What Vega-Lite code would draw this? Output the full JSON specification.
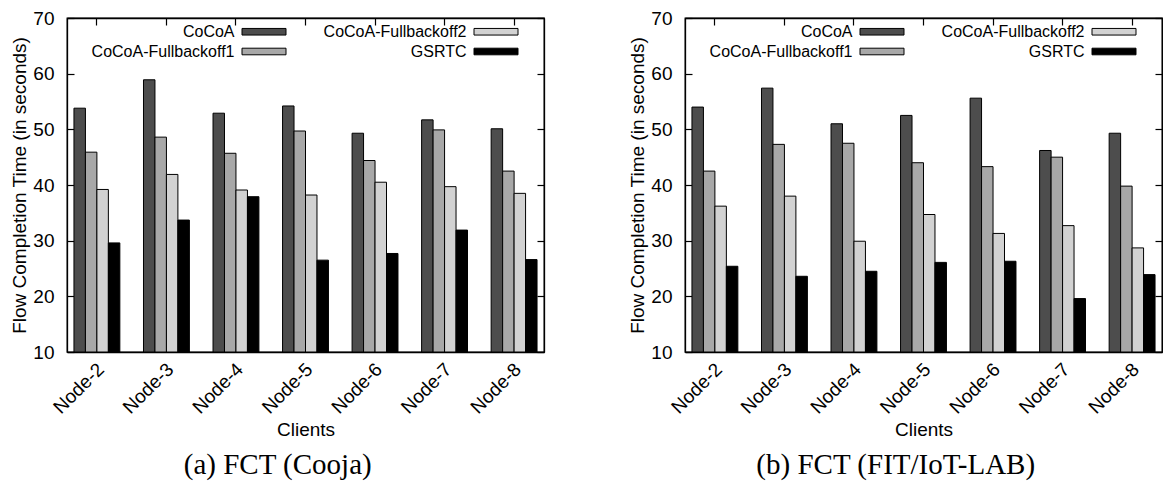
{
  "$schema": "https://vega.github.io/schema/vega-lite/v6.json",
  "background": "white",
  "padding": {"left": 10, "top": 8, "right": 5, "bottom": 0},
  "datasets": {
    "cooja": [
      {"node": "Node-2", "method": "CoCoA", "value": 53.8},
      {"node": "Node-2", "method": "CoCoA-Fullbackoff1", "value": 45.9},
      {"node": "Node-2", "method": "CoCoA-Fullbackoff2", "value": 39.2},
      {"node": "Node-2", "method": "GSRTC", "value": 29.6},
      {"node": "Node-3", "method": "CoCoA", "value": 58.9},
      {"node": "Node-3", "method": "CoCoA-Fullbackoff1", "value": 48.6},
      {"node": "Node-3", "method": "CoCoA-Fullbackoff2", "value": 41.9},
      {"node": "Node-3", "method": "GSRTC", "value": 33.7},
      {"node": "Node-4", "method": "CoCoA", "value": 52.9},
      {"node": "Node-4", "method": "CoCoA-Fullbackoff1", "value": 45.7},
      {"node": "Node-4", "method": "CoCoA-Fullbackoff2", "value": 39.1},
      {"node": "Node-4", "method": "GSRTC", "value": 37.9},
      {"node": "Node-5", "method": "CoCoA", "value": 54.2},
      {"node": "Node-5", "method": "CoCoA-Fullbackoff1", "value": 49.7},
      {"node": "Node-5", "method": "CoCoA-Fullbackoff2", "value": 38.2},
      {"node": "Node-5", "method": "GSRTC", "value": 26.5},
      {"node": "Node-6", "method": "CoCoA", "value": 49.3},
      {"node": "Node-6", "method": "CoCoA-Fullbackoff1", "value": 44.4},
      {"node": "Node-6", "method": "CoCoA-Fullbackoff2", "value": 40.5},
      {"node": "Node-6", "method": "GSRTC", "value": 27.7},
      {"node": "Node-7", "method": "CoCoA", "value": 51.7},
      {"node": "Node-7", "method": "CoCoA-Fullbackoff1", "value": 49.9},
      {"node": "Node-7", "method": "CoCoA-Fullbackoff2", "value": 39.7},
      {"node": "Node-7", "method": "GSRTC", "value": 31.9},
      {"node": "Node-8", "method": "CoCoA", "value": 50.1},
      {"node": "Node-8", "method": "CoCoA-Fullbackoff1", "value": 42.5},
      {"node": "Node-8", "method": "CoCoA-Fullbackoff2", "value": 38.5},
      {"node": "Node-8", "method": "GSRTC", "value": 26.6}
    ],
    "fit": [
      {"node": "Node-2", "method": "CoCoA", "value": 54.0},
      {"node": "Node-2", "method": "CoCoA-Fullbackoff1", "value": 42.5},
      {"node": "Node-2", "method": "CoCoA-Fullbackoff2", "value": 36.2},
      {"node": "Node-2", "method": "GSRTC", "value": 25.4},
      {"node": "Node-3", "method": "CoCoA", "value": 57.4},
      {"node": "Node-3", "method": "CoCoA-Fullbackoff1", "value": 47.3},
      {"node": "Node-3", "method": "CoCoA-Fullbackoff2", "value": 38.0},
      {"node": "Node-3", "method": "GSRTC", "value": 23.6},
      {"node": "Node-4", "method": "CoCoA", "value": 51.0},
      {"node": "Node-4", "method": "CoCoA-Fullbackoff1", "value": 47.5},
      {"node": "Node-4", "method": "CoCoA-Fullbackoff2", "value": 29.9},
      {"node": "Node-4", "method": "GSRTC", "value": 24.5},
      {"node": "Node-5", "method": "CoCoA", "value": 52.5},
      {"node": "Node-5", "method": "CoCoA-Fullbackoff1", "value": 44.0},
      {"node": "Node-5", "method": "CoCoA-Fullbackoff2", "value": 34.7},
      {"node": "Node-5", "method": "GSRTC", "value": 26.1},
      {"node": "Node-6", "method": "CoCoA", "value": 55.6},
      {"node": "Node-6", "method": "CoCoA-Fullbackoff1", "value": 43.3},
      {"node": "Node-6", "method": "CoCoA-Fullbackoff2", "value": 31.3},
      {"node": "Node-6", "method": "GSRTC", "value": 26.3},
      {"node": "Node-7", "method": "CoCoA", "value": 46.2},
      {"node": "Node-7", "method": "CoCoA-Fullbackoff1", "value": 45.0},
      {"node": "Node-7", "method": "CoCoA-Fullbackoff2", "value": 32.7},
      {"node": "Node-7", "method": "GSRTC", "value": 19.6},
      {"node": "Node-8", "method": "CoCoA", "value": 49.3},
      {"node": "Node-8", "method": "CoCoA-Fullbackoff1", "value": 39.8},
      {"node": "Node-8", "method": "CoCoA-Fullbackoff2", "value": 28.7},
      {"node": "Node-8", "method": "GSRTC", "value": 23.9}
    ]
  },
  "config": {
    "font": "Liberation Sans",
    "view": {"stroke": "black", "strokeWidth": 1.3},
    "axis": {
      "labelFont": "Liberation Sans", "labelFontSize": 19, "labelColor": "black",
      "titleFont": "Liberation Sans", "titleFontSize": 19, "titleFontWeight": "normal", "titleColor": "black",
      "domainColor": "black", "domainWidth": 1.3, "tickColor": "black", "tickWidth": 1.2, "grid": false, "zindex": 1
    },
    "title": {"font": "Liberation Serif", "fontSize": 29, "fontWeight": "normal", "color": "black", "orient": "bottom", "anchor": "middle", "frame": "bounds", "offset": 12}
  },
  "resolve": {"legend": {"color": "independent"}},
  "spacing": 82,
  "hconcat": [
    {
      "data": {"name": "cooja"},
      "width": 477, "height": 334,
      "title": {"text": "(a) FCT (Cooja)"},
      "layer": [
        {
          "mark": {"type": "bar", "stroke": "black", "strokeWidth": 1},
          "encoding": {
            "x": {"field": "node", "type": "nominal", "scale": {"paddingInner": 0.34, "paddingOuter": 0.1},
                  "axis": {"title": "Clients", "labelAngle": -45, "labelAlign": "right", "labelBaseline": "middle", "ticks": false, "labelPadding": 14, "labelOffset": 4, "titlePadding": 3}},
            "xOffset": {"field": "method", "type": "nominal", "sort": ["CoCoA", "CoCoA-Fullbackoff1", "CoCoA-Fullbackoff2", "GSRTC"], "scale": {"paddingInner": 0, "paddingOuter": 0}},
            "y": {"field": "value", "type": "quantitative", "scale": {"domain": [10, 70], "nice": false, "zero": false},
                  "axis": {"title": "Flow Completion Time (in seconds)", "values": [10, 20, 30, 40, 50, 60, 70], "tickSize": -7, "labelPadding": 20, "titlePadding": 3}},
            "y2": {"datum": 10},
            "color": {"field": "method", "type": "nominal",
                      "scale": {"domain": ["CoCoA", "CoCoA-Fullbackoff1", "CoCoA-Fullbackoff2", "GSRTC"], "range": ["#4d4d4d", "#a8a8a8", "#d2d2d2", "#000000"]},
                      "legend": {"orient": "none", "legendX": 185.5, "legendY": 2, "columns": 2, "direction": "vertical", "columnPadding": 35, "rowPadding": 0,
                                 "symbolType": "M-2,-0.3H2V0.3H-2Z", "symbolSize": 484, "symbolOpacity": 1,
                                 "symbolStrokeColor": "black", "symbolStrokeWidth": 1, "labelAlign": "right", "labelOffset": -41,
                                 "labelFont": "Liberation Sans", "labelFontSize": 16, "labelColor": "black", "labelLimit": 300,
                                 "title": null, "padding": 0}}
          }
        },
        {
          "mark": {"type": "bar", "fillOpacity": 0, "strokeOpacity": 0},
          "encoding": {
            "x": {"field": "node", "type": "nominal", "axis": {"orient": "top", "labels": false, "title": null, "tickSize": -7}},
            "y": {"field": "value", "type": "quantitative", "axis": {"orient": "right", "labels": false, "title": null, "tickSize": -7, "values": [10, 20, 30, 40, 50, 60, 70]}},
            "y2": {"datum": 10}
          }
        }
      ],
      "resolve": {"axis": {"x": "independent", "y": "independent"}}
    },
    {
      "data": {"name": "fit"},
      "width": 477, "height": 334,
      "title": {"text": "(b) FCT (FIT/IoT-LAB)"},
      "layer": [
        {
          "mark": {"type": "bar", "stroke": "black", "strokeWidth": 1},
          "encoding": {
            "x": {"field": "node", "type": "nominal", "scale": {"paddingInner": 0.34, "paddingOuter": 0.1},
                  "axis": {"title": "Clients", "labelAngle": -45, "labelAlign": "right", "labelBaseline": "middle", "ticks": false, "labelPadding": 14, "labelOffset": 4, "titlePadding": 3}},
            "xOffset": {"field": "method", "type": "nominal", "sort": ["CoCoA", "CoCoA-Fullbackoff1", "CoCoA-Fullbackoff2", "GSRTC"], "scale": {"paddingInner": 0, "paddingOuter": 0}},
            "y": {"field": "value", "type": "quantitative", "scale": {"domain": [10, 70], "nice": false, "zero": false},
                  "axis": {"title": "Flow Completion Time (in seconds)", "values": [10, 20, 30, 40, 50, 60, 70], "tickSize": -7, "labelPadding": 20, "titlePadding": 3}},
            "y2": {"datum": 10},
            "color": {"field": "method", "type": "nominal",
                      "scale": {"domain": ["CoCoA", "CoCoA-Fullbackoff1", "CoCoA-Fullbackoff2", "GSRTC"], "range": ["#4d4d4d", "#a8a8a8", "#d2d2d2", "#000000"]},
                      "legend": {"orient": "none", "legendX": 185.5, "legendY": 2, "columns": 2, "direction": "vertical", "columnPadding": 35, "rowPadding": 0,
                                 "symbolType": "M-2,-0.3H2V0.3H-2Z", "symbolSize": 484, "symbolOpacity": 1,
                                 "symbolStrokeColor": "black", "symbolStrokeWidth": 1, "labelAlign": "right", "labelOffset": -41,
                                 "labelFont": "Liberation Sans", "labelFontSize": 16, "labelColor": "black", "labelLimit": 300,
                                 "title": null, "padding": 0}}
          }
        },
        {
          "mark": {"type": "bar", "fillOpacity": 0, "strokeOpacity": 0},
          "encoding": {
            "x": {"field": "node", "type": "nominal", "axis": {"orient": "top", "labels": false, "title": null, "tickSize": -7}},
            "y": {"field": "value", "type": "quantitative", "axis": {"orient": "right", "labels": false, "title": null, "tickSize": -7, "values": [10, 20, 30, 40, 50, 60, 70]}},
            "y2": {"datum": 10}
          }
        }
      ],
      "resolve": {"axis": {"x": "independent", "y": "independent"}}
    }
  ]
}
